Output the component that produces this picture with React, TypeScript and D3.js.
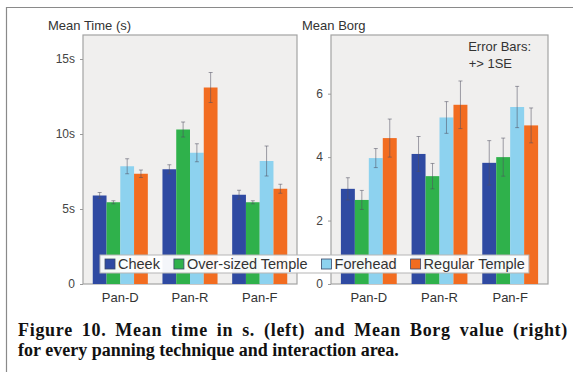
import React, { useEffect, useRef } from 'react';
import * as d3 from 'd3';

const GROUPS = ['Pan-D', 'Pan-R', 'Pan-F'];
const AREAS = ['Cheek', 'Over-sized Temple', 'Forehead', 'Regular Temple'];
const AREA_COLORS = ['#2f4aa2', '#2fb14b', '#8dd2ef', '#f26c20'];

// mean time in seconds, one row per panning technique
const TIME_MEAN = [
  [5.9, 5.45, 7.85, 7.35],
  [7.65, 10.3, 8.75, 13.1],
  [5.95, 5.45, 8.2, 6.35],
];
const TIME_SE = [
  [0.2, 0.1, 0.5, 0.25],
  [0.3, 0.5, 0.6, 1.0],
  [0.3, 0.1, 1.0, 0.3],
];
const TIME_TICKS = [0, 5, 10, 15];
const TIME_TICK_LABELS = ['0', '5s', '10s', '15s'];

// mean Borg rating
const BORG_MEAN = [
  [3.0, 2.65, 3.97, 4.6],
  [4.1, 3.4, 5.25, 5.65],
  [3.82, 4.0, 5.58, 5.0],
];
const BORG_SE = [
  [0.35, 0.3, 0.3, 0.6],
  [0.55, 0.4, 0.5, 0.75],
  [0.7, 0.6, 0.65, 0.55],
];
const BORG_TICKS = [0, 2, 4, 6];
const BORG_TICK_LABELS = ['0', '2', '4', '6'];

const CAPTION = [
  'Figure 10. Mean time in s. (left) and Mean Borg value (right)',
  'for every panning technique and interaction area.',
];

interface Panel {
  title: string;
  titleX: number;
  left: number;
  right: number;
  yMax: number;
  means: number[][];
  errs: number[][];
  ticks: number[];
  tickLabels: string[];
}

const PANELS: Panel[] = [
  { title: 'Mean Time (s)', titleX: 48, left: 83, right: 297, yMax: 16.6, means: TIME_MEAN, errs: TIME_SE, ticks: TIME_TICKS, tickLabels: TIME_TICK_LABELS },
  { title: 'Mean Borg', titleX: 302, left: 331, right: 548, yMax: 7.85, means: BORG_MEAN, errs: BORG_SE, ticks: BORG_TICKS, tickLabels: BORG_TICK_LABELS },
];

export default function App() {
  const svgRef = useRef<SVGSVGElement>(null);

  useEffect(() => {
    if (!svgRef.current) return;
    const svg = d3.select(svgRef.current);
    svg.selectAll('*').remove();

    const W = 573;
    const H = 372;
    const top = 35;
    const bottom = 284;
    const font = '"Liberation Sans", Arial, sans-serif';

    svg.append('rect').attr('width', W).attr('height', H).attr('fill', '#fff');

    // frame lines of the scanned figure
    svg.append('path')
      .attr('d', `M6.5,${H} V7.5 H${W}`)
      .attr('fill', 'none')
      .attr('stroke', '#8a8a8a')
      .attr('stroke-width', 1.2);

    PANELS.forEach(p => {
      const g = svg.append('g');
      const y = d3.scaleLinear().domain([0, p.yMax]).range([bottom, top]);
      const x0 = d3.scaleBand<string>().domain(GROUPS).range([p.left, p.right])
        .paddingInner(0.21).paddingOuter(0.14);
      const x1 = d3.scaleBand<string>().domain(AREAS).range([0, x0.bandwidth()]);

      g.append('rect')
        .attr('x', p.left).attr('y', top)
        .attr('width', p.right - p.left).attr('height', bottom - top)
        .attr('fill', '#f0efee')
        .attr('stroke', '#a3a3a3')
        .attr('stroke-width', 1.2);

      // y axis
      const axis = d3.axisLeft(y)
        .tickValues(p.ticks)
        .tickSize(3)
        .tickPadding(5)
        .tickFormat((_, i) => p.tickLabels[i]);
      const ax = g.append('g').attr('transform', `translate(${p.left},0)`).call(axis);
      ax.select('.domain').remove();
      ax.selectAll('line').attr('stroke', '#9a9a9a');
      ax.selectAll('text')
        .attr('fill', '#444')
        .style('font-family', font)
        .style('font-size', '12px');

      g.append('text')
        .attr('x', p.titleX).attr('y', 30)
        .attr('fill', '#333')
        .style('font-family', font)
        .style('font-size', '13px')
        .text(p.title);

      // bars
      GROUPS.forEach((grp, gi) => {
        const gg = g.append('g').attr('transform', `translate(${x0(grp)},0)`);
        gg.selectAll('rect.bar')
          .data(AREAS)
          .join('rect')
          .attr('class', 'bar')
          .attr('x', d => x1(d)!)
          .attr('y', (_, i) => y(p.means[gi][i]))
          .attr('width', x1.bandwidth())
          .attr('height', (_, i) => bottom - y(p.means[gi][i]))
          .attr('fill', (_, i) => AREA_COLORS[i]);

        const eb = gg.selectAll('g.err')
          .data(AREAS)
          .join('g')
          .attr('class', 'err')
          .attr('stroke', '#505060')
          .attr('stroke-opacity', 0.6)
          .attr('stroke-width', 0.9);
        eb.append('line')
          .attr('x1', d => x1(d)! + x1.bandwidth() / 2)
          .attr('x2', d => x1(d)! + x1.bandwidth() / 2)
          .attr('y1', (_, i) => y(p.means[gi][i] - p.errs[gi][i]))
          .attr('y2', (_, i) => y(p.means[gi][i] + p.errs[gi][i]));
        [1, -1].forEach(s => {
          eb.append('line')
            .attr('x1', d => x1(d)! + x1.bandwidth() / 2 - 2)
            .attr('x2', d => x1(d)! + x1.bandwidth() / 2 + 2)
            .attr('y1', (_, i) => y(p.means[gi][i] + s * p.errs[gi][i]))
            .attr('y2', (_, i) => y(p.means[gi][i] + s * p.errs[gi][i]));
        });
      });

      // group labels
      g.selectAll('text.grp')
        .data(GROUPS)
        .join('text')
        .attr('class', 'grp')
        .attr('x', d => x0(d)! + x0.bandwidth() / 2)
        .attr('y', 302)
        .attr('text-anchor', 'middle')
        .attr('fill', '#333')
        .style('font-family', font)
        .style('font-size', '13px')
        .text(d => d);
    });

    // error bar note
    svg.selectAll('text.note')
      .data(['Error Bars:', '+> 1SE'])
      .join('text')
      .attr('class', 'note')
      .attr('x', (_, i) => (i === 0 ? 531 : 512))
      .attr('y', (_, i) => 51 + i * 17)
      .attr('text-anchor', 'end')
      .attr('fill', '#333')
      .style('font-family', font)
      .style('font-size', '13px')
      .text(d => d);

    // legend
    const lg = svg.append('g');
    const box = lg.append('rect')
      .attr('x', 100).attr('y', 255).attr('height', 18)
      .attr('fill', '#fff').attr('fill-opacity', 0.95)
      .attr('stroke', '#b5b5b5');
    let cx = 105;
    AREAS.forEach((a, i) => {
      lg.append('rect')
        .attr('x', cx).attr('y', 259).attr('width', 10).attr('height', 10)
        .attr('fill', AREA_COLORS[i])
        .attr('stroke', '#3a4a6a').attr('stroke-width', 0.8);
      const t = lg.append('text')
        .attr('x', cx + 13).attr('y', 269)
        .attr('fill', '#333')
        .style('font-family', font)
        .style('font-size', '14.5px')
        .text(a);
      const w = (t.node() as SVGTextElement).getComputedTextLength();
      cx += 13 + w + 14;
    });
    box.attr('width', cx - 14 + 4 - 100);

    // caption, first line stretched to the column width
    const capWidth = 550;
    svg.selectAll('text.cap')
      .data(CAPTION)
      .join('text')
      .attr('class', 'cap')
      .attr('x', 18)
      .attr('y', (_, i) => 336 + i * 20)
      .attr('fill', '#111')
      .style('font-family', '"Liberation Serif", "Times New Roman", serif')
      .style('font-weight', 'bold')
      .style('font-size', '18px')
      .text(d => d)
      .each(function (d, i) {
        if (i !== 0) return;
        const el = this as SVGTextElement;
        const extra = capWidth - el.getComputedTextLength();
        const spaces = d.split(' ').length - 1;
        const sel = d3.select(el);
        sel.style('letter-spacing', `${(extra * 0.5) / (d.length - 1)}px`);
        const w2 = el.getComputedTextLength();
        sel.style('word-spacing', `${(capWidth - w2) / spaces}px`);
      });
  }, []);

  return (
    <svg
      ref={svgRef}
      width={573}
      height={372}
      style={{ position: 'fixed', left: 0, top: 0, display: 'block' }}
    />
  );
}
